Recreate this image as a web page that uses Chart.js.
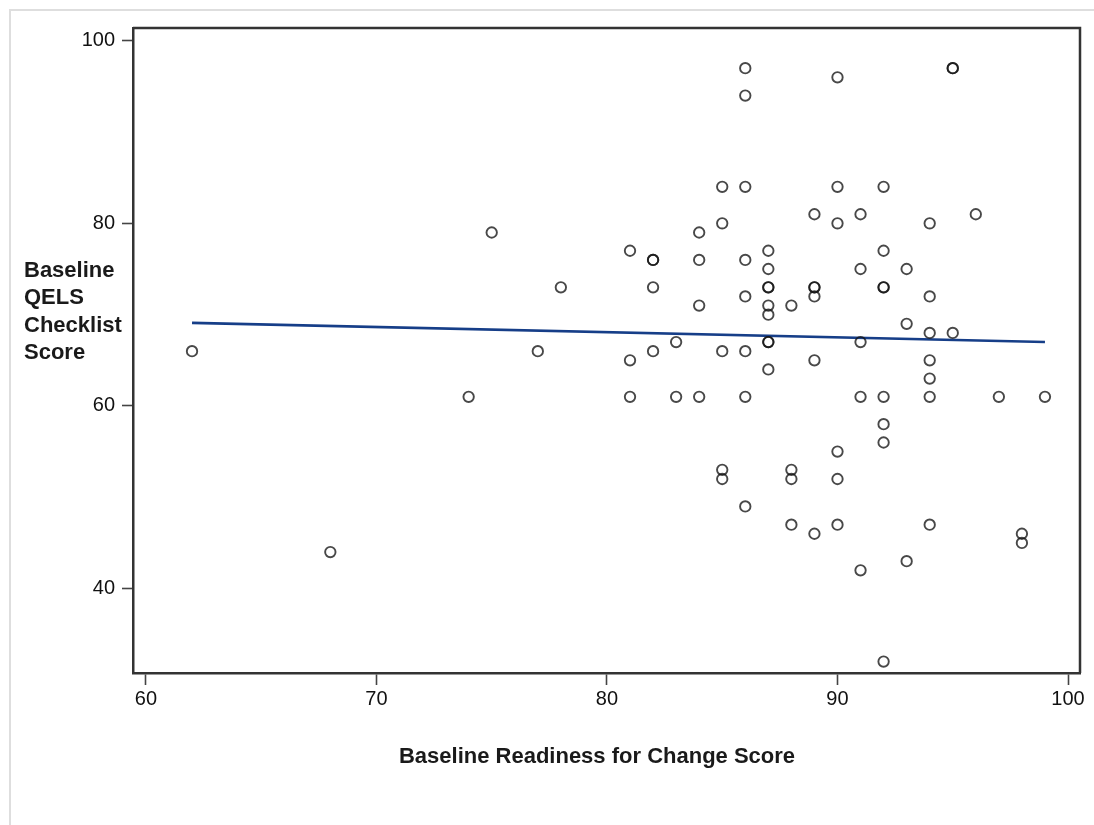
<!DOCTYPE html>
<html>
<head>
<meta charset="utf-8">
<script src="https://cdn.jsdelivr.net/npm/chart.js@4.4.1/dist/chart.umd.min.js"></script>
<style>
  html, body { margin: 0; padding: 0; background: #fff; }
  #wrap { position: relative; width: 1094px; height: 825px; overflow: hidden; }
  #frame { position: absolute; left: 9px; top: 9px; width: 1100px; height: 830px;
           border-left: 2px solid #dedede; border-top: 2px solid #dedede; }
  #c { position: absolute; left: 0; top: 0; }
</style>
</head>
<body>
<div id="wrap">
  <div id="frame"></div>
  <canvas id="c" width="1094" height="825"></canvas>
</div>
<script>
// Baseline Readiness for Change Score (x) vs Baseline QELS Checklist Score (y)
const readinessScores = [
  62, 68, 74, 75, 77, 78,
  81, 81, 81,
  82, 82, 82, 82,
  83, 83,
  84, 84, 84, 84,
  85, 85, 85, 85, 85,
  86, 86, 86, 86, 86, 86, 86, 86,
  87, 87, 87, 87, 87, 87, 87, 87, 87,
  88, 88, 88, 88,
  89, 89, 89, 89, 89, 89,
  90, 90, 90, 90, 90, 90,
  91, 91, 91, 91, 91,
  92, 92, 92, 92, 92, 92, 92, 92,
  93, 93, 93,
  94, 94, 94, 94, 94, 94, 94,
  95, 95, 95,
  96, 97, 98, 98, 99
];
const qelsScores = [
  66, 44, 61, 79, 66, 73,
  77, 65, 61,
  76, 76, 73, 66,
  67, 61,
  79, 76, 71, 61,
  84, 80, 66, 53, 52,
  97, 94, 84, 76, 72, 66, 61, 49,
  77, 75, 73, 73, 71, 70, 67, 67, 64,
  71, 53, 52, 47,
  81, 73, 73, 72, 65, 46,
  96, 84, 80, 55, 52, 47,
  81, 75, 67, 61, 42,
  84, 77, 73, 73, 61, 58, 56, 32,
  75, 69, 43,
  80, 72, 68, 65, 63, 61, 47,
  97, 97, 68,
  81, 61, 46, 45, 61
];
// Fitted line endpoints
const fitX = [62, 99];
const fitY = [69.1, 67.0];

const xTicks = [60, 70, 80, 90, 100];
const yTicks = [40, 60, 80, 100];
const xTitle = 'Baseline Readiness for Change Score';
const yTitleLines = ['Baseline', 'QELS', 'Checklist', 'Score'];

const scatterPoints = readinessScores.map((x, i) => ({ x: x, y: qelsScores[i] }));
const fitPoints = fitX.map((x, i) => ({ x: x, y: fitY[i] }));

const tickFont = { family: "'Liberation Sans Narrow', 'Arial Narrow', 'Liberation Sans', Arial, sans-serif", size: 20 };
const titleFontCss = 'bold 22px "Liberation Sans", Arial, sans-serif';

const framePlugin = {
  id: 'framePlugin',
  afterDraw(chart) {
    const { ctx, chartArea: a } = chart;
    ctx.save();
    ctx.strokeStyle = '#333';
    ctx.lineWidth = 2.5;
    ctx.beginPath();
    ctx.moveTo(a.left, a.top);
    ctx.lineTo(a.right, a.top);
    ctx.lineTo(a.right, a.bottom);
    ctx.stroke();
    ctx.fillStyle = '#1a1a1a';
    ctx.font = titleFontCss;
    ctx.textBaseline = 'middle';
    // y-axis title (horizontal, multi-line)
    ctx.textAlign = 'left';
    const startY = 271, lh = 27.3;
    yTitleLines.forEach((t, i) => ctx.fillText(t, 24, startY + i * lh));
    // x-axis title
    ctx.textAlign = 'center';
    ctx.fillText(xTitle, 597, 757);
    ctx.restore();
  }
};

new Chart(document.getElementById('c'), {
  type: 'scatter',
  data: {
    datasets: [
      {
        label: 'Scores',
        data: scatterPoints,
        pointStyle: 'circle',
        pointRadius: 5.2,
        pointBorderWidth: 1.9,
        pointBorderColor: 'rgba(20,20,20,0.78)',
        pointBackgroundColor: 'rgba(0,0,0,0)',
        showLine: false
      },
      {
        label: 'Fit',
        type: 'line',
        data: fitPoints,
        borderColor: '#163e88',
        borderWidth: 2.6,
        pointRadius: 0,
        fill: false,
        showLine: true
      }
    ]
  },
  options: {
    responsive: false,
    animation: false,
    devicePixelRatio: 1,
    layout: { padding: { left: 0, top: 28, right: 14, bottom: 0 } },
    plugins: { legend: { display: false }, tooltip: { enabled: false } },
    scales: {
      x: {
        type: 'linear',
        min: 59.44,
        max: 100.52,
        afterFit(scale) { scale.height = 152; },
        afterBuildTicks(scale) { scale.ticks = xTicks.map(v => ({ value: v })); },
        ticks: { font: tickFont, color: '#111', padding: 2, includeBounds: false, maxRotation: 0 },
        grid: { display: true, drawOnChartArea: false, drawTicks: true, tickLength: 12, tickColor: '#444', tickWidth: 1.6 },
        border: { display: true, color: '#333', width: 2.5 },
        title: { display: false }
      },
      y: {
        type: 'linear',
        min: 30.75,
        max: 101.4,
        afterFit(scale) { scale.width = 133; },
        afterBuildTicks(scale) { scale.ticks = yTicks.map(v => ({ value: v })); },
        ticks: { font: tickFont, color: '#111', padding: 7, includeBounds: false },
        grid: { display: true, drawOnChartArea: false, drawTicks: true, tickLength: 11, tickColor: '#444', tickWidth: 1.6 },
        border: { display: true, color: '#333', width: 2.5 },
        title: { display: false }
      }
    }
  },
  plugins: [framePlugin]
});
</script>
</body>
</html>
